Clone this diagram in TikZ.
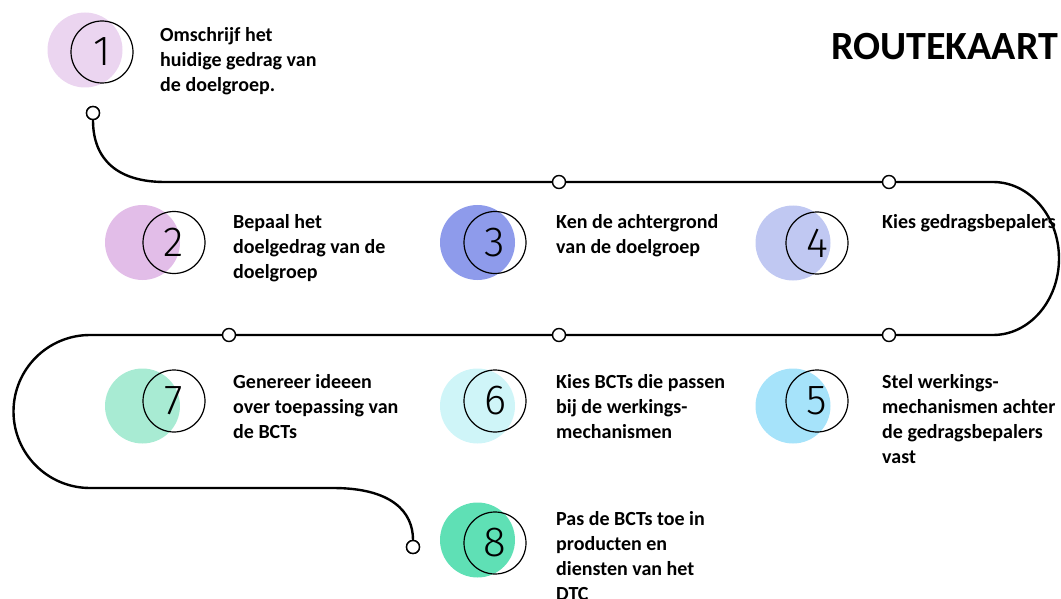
\documentclass[tikz,border=0pt]{standalone}
\usepackage{fontspec}
\setmainfont{Carlito}
\IfFontExistsTF{Fira Sans Light}{\newfontfamily\numfont{Fira Sans Light}}{\newfontfamily\numfont{Carlito}}
\definecolor{cA}{HTML}{EBD5F0}
\definecolor{cB}{HTML}{E2BDE8}
\definecolor{cC}{HTML}{8E9BEB}
\definecolor{cD}{HTML}{C0C8F2}
\definecolor{cE}{HTML}{A6E3FA}
\definecolor{cF}{HTML}{CFF5F8}
\definecolor{cG}{HTML}{A8EBD3}
\definecolor{cH}{HTML}{5FE0B5}
\tikzset{
  blob/.style={circle, minimum size=75pt, inner sep=0pt, draw=none},
  ring/.style={circle, minimum size=62pt, inner sep=0pt, draw=black, line width=1.2pt, font=\numfont\fontsize{42}{42}\selectfont},
  steptext/.style={anchor=north west, inner sep=0pt, align=left, font=\bfseries\fontsize{20}{25}\selectfont},
  dot/.style={circle, minimum size=13pt, inner sep=0pt, draw=black, line width=1.4pt, fill=white},
  route/.style={line width=2.4pt, black},
}
\newcommand{\tl}{\rule{0pt}{16pt}}
\begin{document}
\begin{tikzpicture}[x=1pt,y=-1pt]
\useasboundingbox (0,0) rectangle (1061,599);
% route line
\node[dot] (st) at (93,113) {};
\node[dot] (en) at (413,547) {};
\coordinate (a1) at (165,182);
\coordinate (a2) at (993,182);
\coordinate (a3) at (90,335);
\coordinate (a4) at (333,488);
\draw[route] (st.south) .. controls (93,160) and (118,182) .. (a1) -- (a2)
  arc[start angle=-90, end angle=90, x radius=66, y radius=76.5] -- (a3)
  arc[start angle=-90, end angle=-270, radius=76.5] -- (a4)
  .. controls (392,488) and (413,512) .. (en.north);
\node[dot] (st) at (93,113) {};
\node[dot] (en) at (413,547) {};
\node[dot] (d1) at (559,182) {};
\node[dot] (d2) at (889,182) {};
\node[dot] (d3) at (889,335) {};
\node[dot] (d4) at (559,335) {};
\node[dot] (d5) at (229,335) {};
% title
\node[anchor=base west, inner sep=0pt, font=\bfseries\fontsize{40}{40}\selectfont] (title) at (831,60) {ROUTEKAART};
% step 1
\node[blob, fill=cA] (b1) at (85,50) {};
\node[ring] (r1) at (102,52) {1};
\node[steptext] (t1) at (160,25) {\tl Omschrijf het\\huidige gedrag van\\de doelgroep.};
% step 2
\node[blob, fill=cB] (b2) at (142.5,242.5) {};
\node[ring] (r2) at (174,242.5) {2};
\node[steptext] (t2) at (233,212) {\tl Bepaal het\\doelgedrag van de\\doelgroep};
% step 3
\node[blob, fill=cC] (b3) at (477.5,242.5) {};
\node[ring] (r3) at (495,242.5) {3};
\node[steptext] (t3) at (556,212) {\tl Ken de achtergrond\\van de doelgroep};
% step 4
\node[blob, fill=cD] (b4) at (793,243) {};
\node[ring] (r4) at (817,243) {4};
\node[steptext] (t4) at (882,212) {\tl Kies gedragsbepalers};
% step 5
\node[blob, fill=cE] (b5) at (793,406) {};
\node[ring] (r5) at (817,401) {5};
\node[steptext] (t5) at (882,372) {\tl Stel werkings-\\mechanismen achter\\de gedragsbepalers\\vast};
% step 6
\node[blob, fill=cF] (b6) at (477.5,406) {};
\node[ring] (r6) at (495,401) {6};
\node[steptext] (t6) at (556,372) {\tl Kies BCTs die passen\\bij de werkings-\\mechanismen};
% step 7
\node[blob, fill=cG] (b7) at (142.5,406) {};
\node[ring] (r7) at (174,401) {7};
\node[steptext] (t7) at (233,372) {\tl Genereer ideeen\\over toepassing van\\de BCTs};
% step 8
\node[blob, fill=cH] (b8) at (477.5,540) {};
\node[ring] (r8) at (495,543) {8};
\node[steptext] (t8) at (556,509) {\tl Pas de BCTs toe in\\producten en\\diensten van het\\DTC};
\end{tikzpicture}
\end{document}
